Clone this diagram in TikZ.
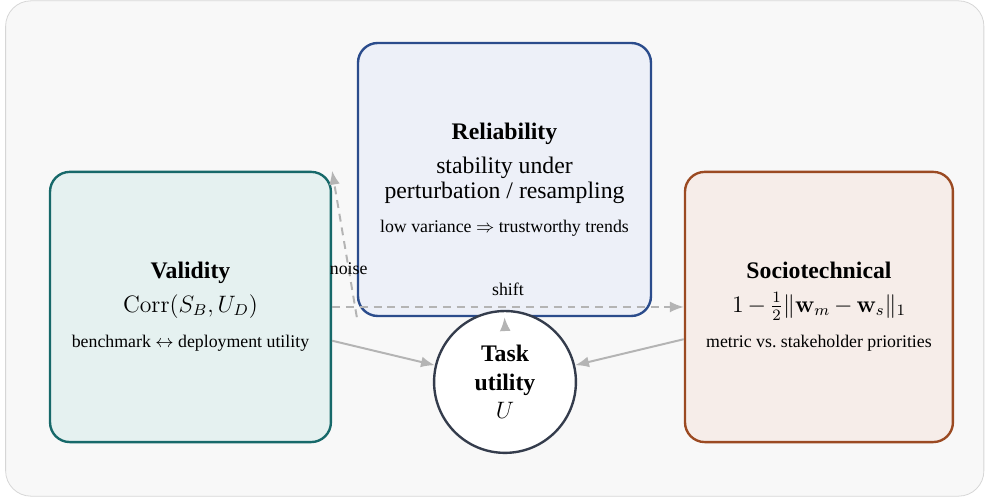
\documentclass[tikz,border=0pt]{standalone}
\usepackage[no-math]{fontspec}
\setmainfont{Liberation Serif}
\usetikzlibrary{arrows.meta}

\definecolor{bggray}{HTML}{F8F8F8}
\definecolor{bgline}{HTML}{D6D6D6}
\definecolor{linegray}{HTML}{B4B4B4}
\definecolor{valline}{HTML}{17696A}
\definecolor{valfill}{HTML}{E5F1F0}
\definecolor{relline}{HTML}{2B4C8C}
\definecolor{relfill}{HTML}{EDF0F8}
\definecolor{socline}{HTML}{9B4A22}
\definecolor{socfill}{HTML}{F6EDE9}
\definecolor{taskline}{HTML}{343C4C}

\begin{document}
\begin{tikzpicture}[
  box/.style={rounded corners=0.35cm, line width=1.2pt, align=center, inner sep=0pt},
  flow/.style={draw=linegray, line width=1pt, -{Latex[length=7pt,width=5.5pt]}},
  dflow/.style={flow, dash pattern=on 4pt off 3pt}
]
\useasboundingbox (0,0) rectangle (17.5,8.865);
\draw[fill=bggray, draw=bgline, rounded corners=0.45cm] (0.1,0.05) rectangle (17.48,8.85);

\node[box, draw=valline, fill=valfill, minimum width=4.99cm, minimum height=4.8cm] (V) at (3.384,3.411)
  {{\large\bfseries Validity}\\[5pt]
   {\large $\mathrm{Corr}(S_B,U_D)$}\\[6pt]
   {\small benchmark $\leftrightarrow$ deployment utility}};
\node[box, draw=relline, fill=relfill, minimum width=5.205cm, minimum height=4.85cm] (R) at (8.963,5.676)
  {{\large\bfseries Reliability}\\[5.5pt]
   {\large stability under}\\[0.5pt]
   {\large perturbation / resampling}\\[5pt]
   {\small low variance $\Rightarrow$ trustworthy trends}};
\node[box, draw=socline, fill=socfill, minimum width=4.76cm, minimum height=4.8cm] (S) at (14.55,3.411)
  {{\large\bfseries Sociotechnical}\\[5pt]
   {\large $1\,{-}\,\frac{1}{2}\|\mathbf{w}_m\,{-}\,\mathbf{w}_s\|_1$}\\[6pt]
   {\small metric vs.\ stakeholder priorities}};
\node[circle, draw=taskline, fill=white, line width=1.2pt, minimum size=2.52cm, inner sep=0pt, align=center] (U) at (8.972,2.079)
  {\large\bfseries Task\\[2.5pt] \large\bfseries utility\\[2.5pt] \large $U$};

\draw[flow] (V) -- (U);
\draw[flow] (S) -- (U);
\draw[flow] ([yshift=-0.3cm]U.north) -- (R.south);
\draw[dflow] (V) -- (S) node[midway, above=2pt] {\small shift};
\draw[dflow] (R.south west) -- (V.north east) node[pos=0.33] {\small noise};
\end{tikzpicture}
\end{document}
